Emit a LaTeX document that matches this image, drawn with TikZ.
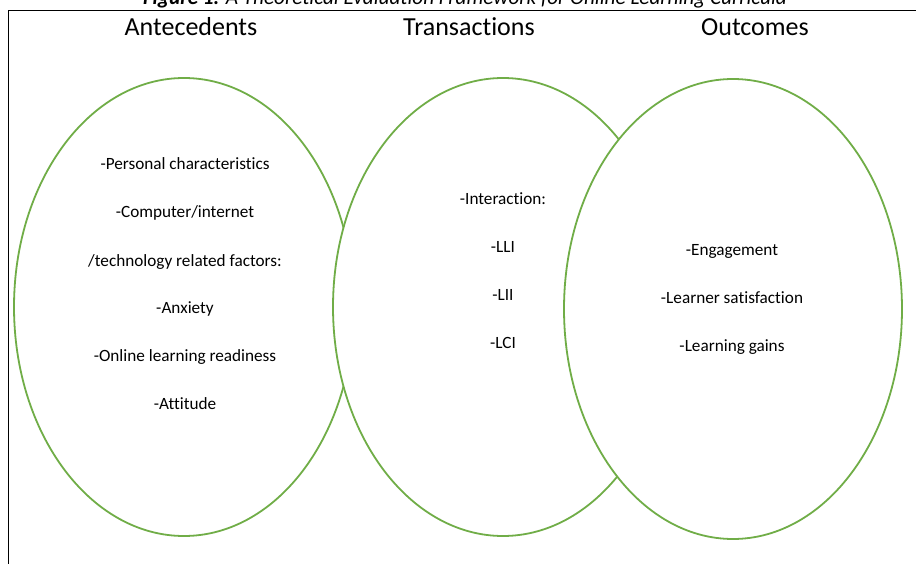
\documentclass[tikz,border=0pt]{standalone}
\usepackage{fontspec}
\setmainfont{Carlito}[Ligatures={NoCommon}]
\usetikzlibrary{shapes.geometric}
\definecolor{ringgreen}{HTML}{70AD47}
\begin{document}
\begin{tikzpicture}[x=1pt,y=-1pt,
  ring/.style={ellipse, draw=ringgreen, line width=1.8pt, fill=white,
    minimum width=340pt, minimum height=458pt, inner sep=0pt},
  heading/.style={anchor=base, inner sep=0pt, font=\fontsize{26}{30}\selectfont},
  item/.style={anchor=base, inner sep=0pt, font=\fontsize{17.2}{20}\selectfont},
  captext/.style={anchor=base, inner sep=0pt, font=\fontsize{21.2}{24}\selectfont\itshape}]
\useasboundingbox[clip] (0,0) rectangle (916,564);

% frame around the figure
\draw[line width=1pt] (8,600) -- (8,11) -- (930,11);

% caption above the frame
\node[captext] (cap) at (465,5) {\textbf{Figure 1.} A Theoretical Evaluation Framework for Online Learning Curricula};

% column headings
\node[heading] (hA) at (191,36) {Antecedents};
\node[heading] (hT) at (469,36) {Transactions};
\node[heading] (hO) at (755,36) {Outcomes};

% the three overlapping ellipses, later ones covering earlier ones
\node[ring] (eA) at (184,307) {};
\node[ring] (eT) at (503,307) {};
\node[ring, minimum width=338pt, minimum height=460pt] (eO) at (733,309) {};

% antecedents
\node[item] (a1) at (185,170) {-Personal characteristics};
\node[item] (a2) at (185,218) {-Computer/internet};
\node[item] (a3) at (185,266) {/technology related factors:};
\node[item] (a4) at (185,313) {-Anxiety};
\node[item] (a5) at (185,361) {-Online learning readiness};
\node[item] (a6) at (185,409) {-Attitude};

% transactions
\node[item] (t1) at (503,205) {-Interaction:};
\node[item] (t2) at (503,253) {-LLI};
\node[item] (t3) at (503,300) {-LII};
\node[item] (t4) at (503,348) {-LCI};

% outcomes
\node[item] (o1) at (732,256) {-Engagement};
\node[item] (o2) at (732,303) {-Learner satisfaction};
\node[item] (o3) at (732,351) {-Learning gains};
\end{tikzpicture}
\end{document}
